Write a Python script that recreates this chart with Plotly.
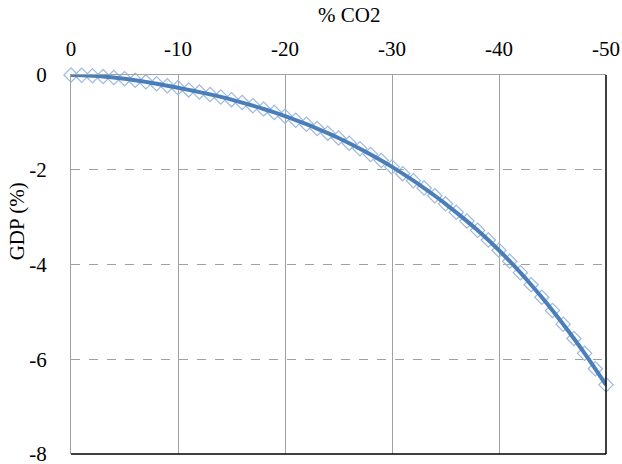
import plotly.graph_objects as go

co2_change = [0, -1, -2, -3, -4, -5, -6, -7, -8, -9, -10,
              -11, -12, -13, -14, -15, -16, -17, -18, -19, -20,
              -21, -22, -23, -24, -25, -26, -27, -28, -29, -30,
              -31, -32, -33, -34, -35, -36, -37, -38, -39, -40,
              -41, -42, -43, -44, -45, -46, -47, -48, -49, -50]
gdp_change = [0.0, -0.004, -0.015, -0.032, -0.054, -0.08, -0.110, -0.145, -0.184, -0.226, -0.27,
              -0.314, -0.361, -0.410, -0.463, -0.52, -0.582, -0.648, -0.717, -0.791, -0.87,
              -0.953, -1.039, -1.130, -1.227, -1.33, -1.440, -1.555, -1.677, -1.805, -1.94,
              -2.082, -2.230, -2.386, -2.549, -2.72, -2.899, -3.084, -3.278, -3.482, -3.70,
              -3.931, -4.173, -4.427, -4.692, -4.97, -5.260, -5.562, -5.875, -6.201, -6.54]
x_ticks = [0, -10, -20, -30, -40, -50]
x_tick_labels = ["0", "-10", "-20", "-30", "-40", "-50"]
y_ticks = [0, -2, -4, -6, -8]
y_tick_labels = ["0", "-2", "-4", "-6", "-8"]

font = "Liberation Serif, Times New Roman, serif"
fs = 21

fig = go.Figure()
fig.add_trace(go.Scatter(
    x=co2_change, y=gdp_change, mode="markers",
    marker=dict(symbol="diamond-open", size=11, color="#9DB9DF",
                line=dict(width=1.2, color="#9DB9DF")),
    showlegend=False, cliponaxis=False))
fig.add_trace(go.Scatter(
    x=co2_change, y=gdp_change, mode="lines",
    line=dict(color="#4A7EBB", width=4, shape="spline"),
    showlegend=False, cliponaxis=False))

fig.update_layout(
    width=622, height=464,
    margin=dict(l=71, r=16, t=75, b=10),
    paper_bgcolor="white", plot_bgcolor="white",
    font=dict(family=font, size=fs, color="black"),
    xaxis=dict(
        side="top", range=[0, -50], tickvals=x_ticks, ticktext=x_tick_labels,
        showgrid=True, gridcolor="#A0A0A0", gridwidth=1,
        showline=True, linecolor="#A0A0A0", linewidth=1,
        zeroline=False, ticks="", ticklabelstandoff=10, automargin=False,
        ticklabeloverflow="allow",
        tickfont=dict(family=font, size=fs),
    ),
    yaxis=dict(
        range=[-8, 0], tickvals=y_ticks, ticktext=y_tick_labels,
        showgrid=True, gridcolor="#A0A0A0", gridwidth=1, griddash="dash",
        showline=True, linecolor="#A0A0A0", linewidth=1,
        zeroline=False, ticks="", ticklabelstandoff=19, automargin=False,
        ticklabeloverflow="allow",
        tickfont=dict(family=font, size=fs),
    ),
    shapes=[
        dict(type="line", xref="paper", yref="paper", x0=0, x1=1, y0=0, y1=0,
             line=dict(color="black", width=1.5)),
        dict(type="line", xref="paper", yref="paper", x0=1, x1=1, y0=0, y1=1,
             line=dict(color="black", width=1.5)),
    ],
    annotations=[
        dict(text="% CO2", xref="paper", yref="paper", x=0.52, y=1.0, yshift=60,
             showarrow=False, xanchor="center", yanchor="middle",
             font=dict(family=font, size=fs)),
        dict(text="GDP (%)", xref="paper", yref="paper", x=0, xshift=-54, y=0.614,
             showarrow=False, textangle=-90, xanchor="center", yanchor="middle",
             font=dict(family=font, size=fs)),
    ],
)

fig.write_html("out.html", config={"displayModeBar": False},
               post_script="document.body.style.margin='0';document.body.style.overflow='hidden';")
